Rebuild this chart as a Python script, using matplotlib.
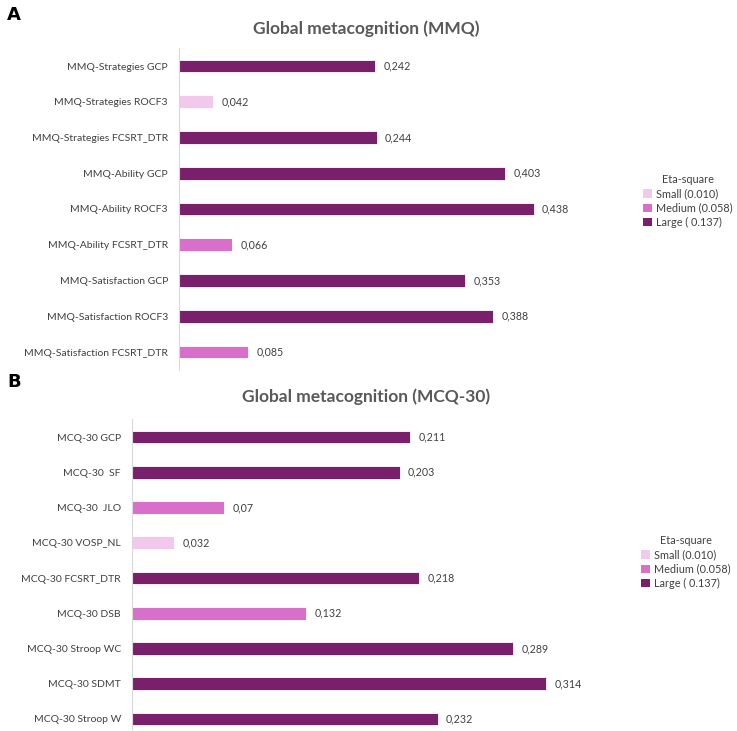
import matplotlib
matplotlib.use("Agg")
import matplotlib.pyplot as plt
from matplotlib.patches import Patch

plt.rcParams['font.family'] = ['Lato', 'DejaVu Sans']

# Panel A data
mmq_labels = ["MMQ-Strategies GCP", "MMQ-Strategies ROCF3", "MMQ-Strategies FCSRT_DTR",
              "MMQ-Ability GCP", "MMQ-Ability ROCF3", "MMQ-Ability FCSRT_DTR",
              "MMQ-Satisfaction GCP", "MMQ-Satisfaction ROCF3", "MMQ-Satisfaction FCSRT_DTR"]
mmq_values = [0.242, 0.042, 0.244, 0.403, 0.438, 0.066, 0.353, 0.388, 0.085]
mmq_text = ["0,242", "0,042", "0,244", "0,403", "0,438", "0,066", "0,353", "0,388", "0,085"]
mmq_size = ["Large", "Small", "Large", "Large", "Large", "Medium", "Large", "Large", "Medium"]

# Panel B data
mcq_labels = ["MCQ-30 GCP", "MCQ-30  SF", "MCQ-30  JLO", "MCQ-30 VOSP_NL", "MCQ-30 FCSRT_DTR",
              "MCQ-30 DSB", "MCQ-30 Stroop WC", "MCQ-30 SDMT", "MCQ-30 Stroop W"]
mcq_values = [0.211, 0.203, 0.07, 0.032, 0.218, 0.132, 0.289, 0.314, 0.232]
mcq_text = ["0,211", "0,203", "0,07", "0,032", "0,218", "0,132", "0,289", "0,314", "0,232"]
mcq_size = ["Large", "Large", "Medium", "Small", "Large", "Medium", "Large", "Large", "Large"]

legend_labels = ["Small (0.010)", "Medium (0.058)", "Large ( 0.137)"]
size_keys = ["Small", "Medium", "Large"]
colors = {"Small": "#F2C9EC", "Medium": "#D76FCB", "Large": "#7A1F6C"}

W, H = 737, 731
fig = plt.figure(figsize=(W / 100, H / 100), dpi=100)

def panel(rect, labels, values, texts, sizes, xmax, ylim, title, title_y, letter, letter_y, leg_xy):
    ax = fig.add_axes(rect)
    ys = list(range(len(labels)))
    ax.barh(ys, values, height=0.36, color=[colors[s] for s in sizes],
            edgecolor="white", linewidth=0.6)
    for y, v, t in zip(ys, values, texts):
        ax.annotate(t, (v, y), xytext=(6, 0), textcoords="offset points",
                    va="center", ha="left", fontsize=7.7, color="#404040")
    ax.set_yticks(ys)
    ax.set_yticklabels(labels, fontsize=7.5, color="#404040")
    ax.tick_params(axis="y", length=0, pad=8)
    ax.set_xticks([])
    ax.set_xlim(0, xmax)
    ax.set_ylim(*ylim)
    for s in ["top", "right", "bottom"]:
        ax.spines[s].set_visible(False)
    ax.spines["left"].set_color("#D9D9D9")
    ax.spines["left"].set_linewidth(0.8)
    fig.text(366 / W, 1 - title_y / H, title, ha="center", va="center",
             fontsize=12.5, fontweight="bold", color="#595959")
    fig.text(7 / W, 1 - letter_y / H, letter, ha="left", va="center",
             fontsize=13, fontweight="bold", color="black", family=["DejaVu Sans"])
    handles = [Patch(facecolor=colors[k], edgecolor="none") for k in size_keys]
    leg = fig.legend(handles, legend_labels, title="Eta-square", loc="center left",
                     bbox_to_anchor=(leg_xy[0] / W, 1 - leg_xy[1] / H), frameon=False,
                     fontsize=7.8, title_fontsize=7.8, handlelength=0.8, handleheight=0.8,
                     handletextpad=0.4, labelspacing=0.3, borderpad=0)
    for t in leg.get_texts():
        t.set_color("#404040")
    leg.get_title().set_color("#404040")
    return ax

# Panel A: bars at y 66..352 px, spacing ~35.75
spA = 35.75
topA = 66 - 0.5 * spA
botA = 352 + 0.5 * spA
panel([179 / W, 1 - botA / H, 405 / W, (botA - topA) / H],
      mmq_labels, mmq_values, mmq_text, mmq_size, 0.5, (8.5, -0.5),
      "Global metacognition (MMQ)", 29, "A", 15, (638, 201))

# Panel B: bars at y 437..719 px, spacing ~35.25
spB = 35.25
topB = 437 - 0.5 * spB
botB = 729
ylowB = 8 + (botB - 719) / spB
panel([132 / W, 1 - botB / H, (0.35 * 1318) / W, (botB - topB) / H],
      mcq_labels, mcq_values, mcq_text, mcq_size, 0.35, (ylowB, -0.5),
      "Global metacognition (MCQ-30)", 397, "B", 382, (636, 562))

fig.savefig("out.png", dpi=100, facecolor="white")
